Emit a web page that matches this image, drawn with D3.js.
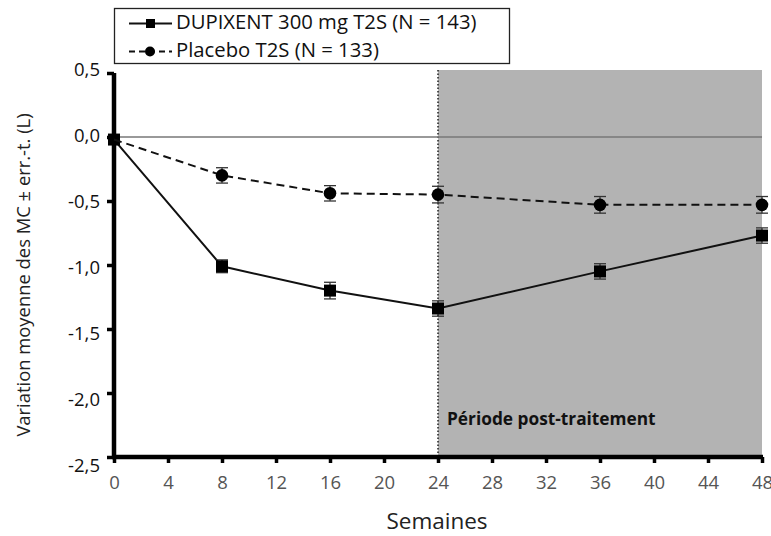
<!DOCTYPE html>
<html>
<head>
<meta charset="utf-8">
<script src="https://cdn.jsdelivr.net/npm/d3@7"></script>
<style>
  html, body { margin: 0; padding: 0; background: #fff; }
  svg text { font-family: "Open Sans", "Noto Sans", sans-serif; }
</style>
</head>
<body>
<svg id="chart" width="771" height="536"></svg>
<script>
// Weeks of assessment
const weeks = [0, 8, 16, 24, 36, 48];
// LS mean change from baseline (L) and standard error
const dupixent = [-0.02, -1.01, -1.20, -1.34, -1.05, -0.77];
const dupixentSE = [0.03, 0.05, 0.065, 0.06, 0.06, 0.06];
const placebo = [-0.02, -0.30, -0.44, -0.45, -0.53, -0.53];
const placeboSE = [0.03, 0.06, 0.06, 0.065, 0.065, 0.065];
// Axis ticks
const xTicks = [0, 4, 8, 12, 16, 20, 24, 28, 32, 36, 40, 44, 48];
const yTicks = [0.5, 0.0, -0.5, -1.0, -1.5, -2.0, -2.5];
const legendLabels = ["DUPIXENT 300 mg T2S (N = 143)", "Placebo T2S (N = 133)"];
const postStart = 24;

const svg = d3.select("#chart");
const x = d3.scaleLinear().domain([0, 48]).range([114, 762]);
const y = d3.scaleLinear().domain([-2.5, 0.5]).range([457, 73]);
// Tick labels on the value axis are set on a slightly wider spacing than the ticks
const yLabel = d3.scaleLinear().domain([-2.5, 0.5]).range([466, 70]);
const fmt = d => d3.format(".1f")(d).replace(".", ",").replace("−", "-");

// Post-treatment shaded period
svg.append("rect")
  .attr("x", x(postStart)).attr("y", 70)
  .attr("width", x(48) - x(postStart)).attr("height", y(-2.5) - 70)
  .attr("fill", "#b3b3b3");
svg.append("line")
  .attr("x1", x(postStart)).attr("x2", x(postStart))
  .attr("y1", 70).attr("y2", y(-2.5))
  .attr("stroke", "#222").attr("stroke-width", 1.5)
  .attr("stroke-dasharray", "1.5,2");
svg.append("text")
  .attr("x", x(postStart) + 9).attr("y", 425)
  .attr("font-size", 17.3).attr("font-weight", "bold").attr("fill", "#111")
  .text("Période post-traitement");

// Zero reference line
svg.append("line")
  .attr("x1", x(0)).attr("x2", x(48))
  .attr("y1", y(0)).attr("y2", y(0))
  .attr("stroke", "#777").attr("stroke-width", 1.5);

// Axes
const yAxis = d3.axisLeft(y).tickValues(yTicks).tickFormat(fmt).tickSize(7).tickPadding(7);
const gy = svg.append("g").attr("transform", `translate(${x(0)},0)`).call(yAxis);
gy.select(".domain").attr("stroke", "#000").attr("stroke-width", 4.5)
  .attr("d", `M0,${y(0.5)}V${y(-2.5) + 2}`);
gy.selectAll(".tick line").attr("stroke", "#000").attr("stroke-width", 3.5);
gy.selectAll(".tick text").attr("font-size", 18.5).attr("fill", "#111")
  .attr("font-family", "Open Sans, sans-serif")
  .attr("y", d => yLabel(d) - y(d));

const xAxis = d3.axisBottom(x).tickValues(xTicks).tickSize(6).tickPadding(13);
const gx = svg.append("g").attr("transform", `translate(0,${y(-2.5)})`).call(xAxis);
gx.select(".domain").attr("stroke", "#000").attr("stroke-width", 4.5)
  .attr("d", `M${x(0) - 2},0H${x(48) + 1}`);
gx.selectAll(".tick line").attr("stroke", "#000").attr("stroke-width", 3.5);
gx.selectAll(".tick text").attr("font-size", 18.5).attr("fill", "#555")
  .attr("font-family", "Open Sans, sans-serif");

// Axis titles
svg.append("text")
  .attr("x", 437).attr("y", 529)
  .attr("text-anchor", "middle").attr("font-size", 22.5).attr("fill", "#222")
  .text("Semaines");
svg.append("text")
  .attr("transform", "translate(30,275) rotate(-90)")
  .attr("text-anchor", "middle").attr("font-size", 18.4).attr("fill", "#222")
  .text("Variation moyenne des MC ± err.-t. (L)");

// Series
const series = [
  { values: dupixent, se: dupixentSE, dash: null, shape: "square" },
  { values: placebo, se: placeboSE, dash: "8,5", shape: "circle" }
];
const line = d3.line().x(d => x(d.w)).y(d => y(d.v));

series.forEach(s => {
  const pts = weeks.map((w, i) => ({ w, v: s.values[i], e: s.se[i] }));
  svg.append("path").datum(pts)
    .attr("d", line).attr("fill", "none")
    .attr("stroke", "#111").attr("stroke-width", 2)
    .attr("stroke-dasharray", s.dash);
  const eb = svg.append("g").selectAll("g").data(pts.slice(1)).join("g")
    .attr("stroke", "#333").attr("stroke-width", 1.3);
  eb.append("line").attr("x1", d => x(d.w)).attr("x2", d => x(d.w))
    .attr("y1", d => y(d.v + d.e)).attr("y2", d => y(d.v - d.e));
  eb.append("line").attr("x1", d => x(d.w) - 6).attr("x2", d => x(d.w) + 6)
    .attr("y1", d => y(d.v + d.e)).attr("y2", d => y(d.v + d.e));
  eb.append("line").attr("x1", d => x(d.w) - 6).attr("x2", d => x(d.w) + 6)
    .attr("y1", d => y(d.v - d.e)).attr("y2", d => y(d.v - d.e));
  if (s.shape === "square") {
    svg.append("g").selectAll("rect").data(pts).join("rect")
      .attr("x", d => x(d.w) - 6).attr("y", d => y(d.v) - 6)
      .attr("width", 12).attr("height", 12).attr("fill", "#000");
  } else {
    svg.append("g").selectAll("circle").data(pts.slice(1)).join("circle")
      .attr("cx", d => x(d.w)).attr("cy", d => y(d.v))
      .attr("r", 6.3).attr("fill", "#000");
  }
});

// Legend
const lg = svg.append("g");
lg.append("rect").attr("x", 114.5).attr("y", 8.5).attr("width", 395).attr("height", 55)
  .attr("fill", "#fff").attr("stroke", "#222").attr("stroke-width", 1.3);
legendLabels.forEach((lab, i) => {
  const cy = 23.5 + i * 28;
  lg.append("line").attr("x1", 129).attr("x2", 172).attr("y1", cy).attr("y2", cy)
    .attr("stroke", "#111").attr("stroke-width", 2)
    .attr("stroke-dasharray", i === 0 ? null : "6,4");
  if (i === 0) {
    lg.append("rect").attr("x", 146).attr("y", cy - 4.5).attr("width", 9).attr("height", 9).attr("fill", "#000");
  } else {
    lg.append("circle").attr("cx", 150).attr("cy", cy).attr("r", 5).attr("fill", "#000");
  }
  lg.append("text").attr("x", 176).attr("y", 29 + i * 28)
    .attr("font-size", 20.3).attr("fill", "#111").text(lab);
});
</script>
</body>
</html>
